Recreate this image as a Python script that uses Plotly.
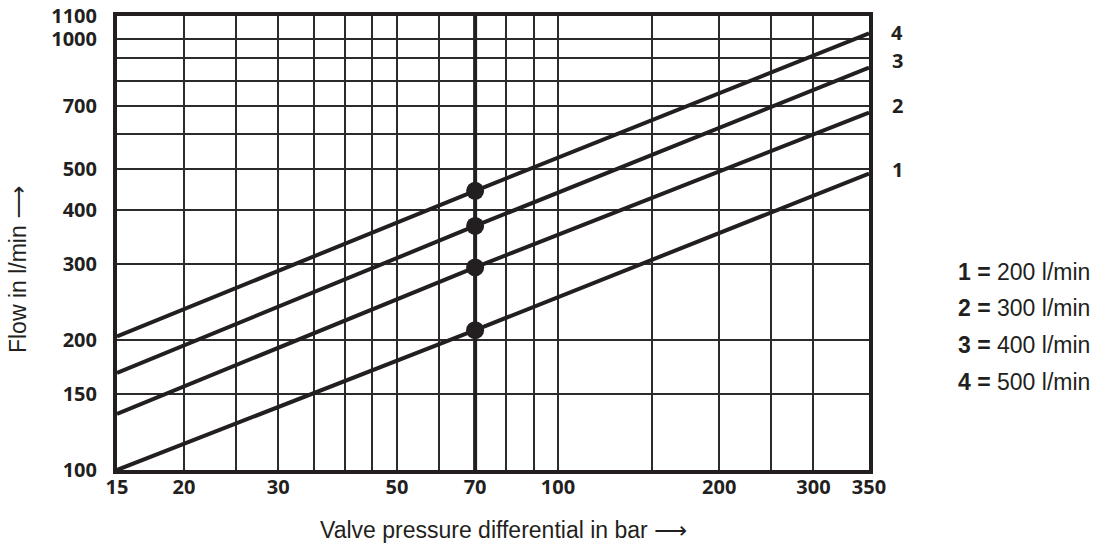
import math
import plotly.graph_objects as go

# ---------------- data ----------------
pressure_points = [15, 70, 381]          # bar: left edge, marked point, right edge of the grid
flow_line_1 = [100, 211, 487]            # l/min
flow_line_2 = [135, 295, 674]
flow_line_3 = [168, 368, 857]
flow_line_4 = [204, 444, 1029]
line_labels = ["1", "2", "3", "4"]
nominal_flows = ["200 l/min", "300 l/min", "400 l/min", "500 l/min"]

marked_pressure = 70
marked_flows = [211, 295, 368, 444]

x_tick_vals = [15, 20, 30, 50, 70, 100, 200, 300, 381]
x_tick_text = ["15", "20", "30", "50", "70", "100", "200", "300", "350"]
y_tick_vals = [100, 150, 200, 300, 400, 500, 700, 1000, 1129]
y_tick_text = ["100", "150", "200", "300", "400", "500", "700", "1000", "1100"]

x_grid_vals = [20, 25, 30, 35, 40, 45, 50, 60, 80, 90, 100, 150, 200, 250, 300]
y_grid_vals = [150, 200, 300, 400, 500, 600, 700, 800, 900, 1000]

x_range = [15, 381]
y_range = [100, 1129]

# ---------------- styling ----------------
INK = "#231f20"
GRID = "#2b2b2b"
TICK_FONT = dict(family="Open Sans", size=20, color=INK, weight="bold")
SANS = "Liberation Sans"
TEXT_FONT = dict(family=SANS, size=23, color=INK)
ARROW = '<span style="font-family:DejaVu Sans">\u27f6</span>'

fig = go.Figure()

lines = [flow_line_1, flow_line_2, flow_line_3, flow_line_4]
for name, ys in zip(line_labels, lines):
    fig.add_trace(go.Scatter(
        x=pressure_points, y=ys, mode="lines",
        line=dict(color=INK, width=4), name=name, showlegend=False,
        hoverinfo="skip"))

# thick vertical line at the marked pressure
fig.add_trace(go.Scatter(
    x=[marked_pressure, marked_pressure], y=y_range, mode="lines",
    line=dict(color=INK, width=4), showlegend=False, hoverinfo="skip"))

# marked points
fig.add_trace(go.Scatter(
    x=[marked_pressure] * len(marked_flows), y=marked_flows, mode="markers",
    marker=dict(color=INK, size=18), showlegend=False, hoverinfo="skip"))

axis_common = dict(
    type="log", automargin=False,
    showline=True, linewidth=4, linecolor=INK, mirror=True,
    showgrid=False, ticks="", tickfont=TICK_FONT,
    tickmode="array",
)

fig.update_xaxes(
    **axis_common,
    range=[math.log10(v) for v in x_range],
    tickvals=x_tick_vals, ticktext=x_tick_text,
    ticklabelstandoff=-4,
    minor=dict(tickmode="array", tickvals=x_grid_vals, showgrid=True,
               gridcolor=GRID, gridwidth=1.8, ticks=""),
)
fig.update_yaxes(
    **axis_common,
    range=[math.log10(v) for v in y_range],
    tickvals=y_tick_vals, ticktext=y_tick_text,
    ticklabelstandoff=12,
    minor=dict(tickmode="array", tickvals=y_grid_vals, showgrid=True,
               gridcolor=GRID, gridwidth=1.8, ticks=""),
)

annotations = []
# line numbers at the right edge
label_shift = [4, 7, 7, 1]
for lab, ys, dy in zip(line_labels, lines, label_shift):
    annotations.append(dict(
        x=1, xref="paper", xanchor="center", xshift=28,
        y=math.log10(ys[-1]), yref="y", yanchor="middle", yshift=dy,
        text=f"<b>{lab}</b>", showarrow=False, font=TICK_FONT))

# legend text
legend_y = [0.436, 0.357, 0.275, 0.194]
for lab, flow, yy in zip(line_labels, nominal_flows, legend_y):
    annotations.append(dict(
        x=1, xref="paper", xanchor="left", xshift=87,
        y=yy, yref="paper", yanchor="middle",
        text=f"<b>{lab} =</b> {flow}", showarrow=False,
        font=dict(family=SANS, size=23, color=INK)))

# axis titles
annotations.append(dict(
    x=0.5146, xref="paper", y=-0.132, yref="paper",
    xanchor="center", yanchor="middle",
    text="Valve pressure differential in bar " + ARROW, showarrow=False, font=TEXT_FONT))
annotations.append(dict(
    x=-0.1316, xref="paper", y=0.4405, yref="paper",
    xanchor="center", yanchor="middle", textangle=-90,
    text="Flow in l/min " + ARROW, showarrow=False, font=TEXT_FONT))

fig.update_layout(
    width=1106, height=548,
    margin=dict(l=117, r=237, t=16, b=78),
    paper_bgcolor="white", plot_bgcolor="white",
    annotations=annotations,
    showlegend=False,
)

fig.write_html("out.html")
